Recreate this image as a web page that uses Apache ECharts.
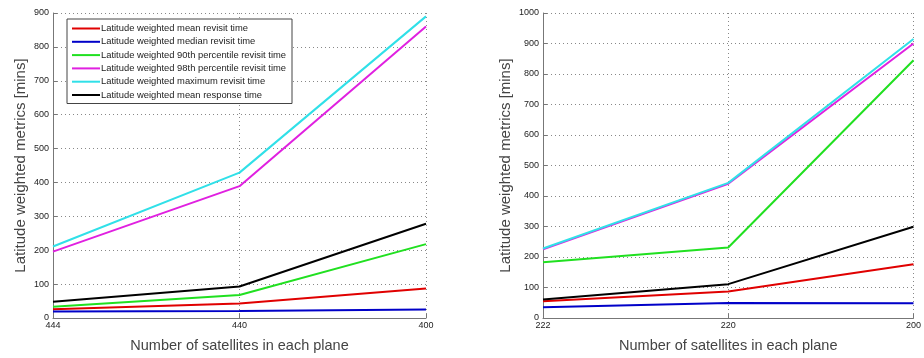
<!DOCTYPE html>
<html><head><meta charset="utf-8">
<script src="https://cdn.jsdelivr.net/npm/echarts@6/dist/echarts.min.js"></script>
<style>html,body{margin:0;padding:0;background:#fff}#c{width:924px;height:358px}</style>
</head><body><div id="c"></div>
<script>
const seriesNames = [
  'Latitude weighted mean revisit time',
  'Latitude weighted median revisit time',
  'Latitude weighted 90th percentile revisit time',
  'Latitude weighted 98th percentile revisit time',
  'Latitude weighted maximum revisit time',
  'Latitude weighted mean response time'
];
const colors = ['#e00000', '#0000c8', '#20e020', '#e020e0', '#30e0e8', '#000000'];

const leftCategories = ['444', '440', '400'];
const leftMean   = [26, 43, 87];
const leftMedian = [19, 21, 25];
const left90     = [33, 68, 218];
const left98     = [196, 389, 860];
const leftMax    = [211, 429, 890];
const leftResp   = [48, 93, 278];

const rightCategories = ['222', '220', '200'];
const rightMean   = [55, 87, 176];
const rightMedian = [35, 49, 48];
const right90     = [183, 231, 845];
const right98     = [225, 440, 900];
const rightMax    = [228, 443, 915];
const rightResp   = [61, 111, 299];

const leftData = [leftMean, leftMedian, left90, left98, leftMax, leftResp];
const rightData = [rightMean, rightMedian, right90, right98, rightMax, rightResp];

const font = 'Liberation Sans, Arial, sans-serif';
function xAxis(cats, gi) {
  return {
    type: 'category', data: cats, boundaryGap: false, gridIndex: gi,
    name: 'Number of satellites in each plane', nameLocation: 'middle', nameGap: 20,
    nameTextStyle: { fontFamily: font, fontSize: 14.5, color: '#444' },
    axisLine: { lineStyle: { color: '#777', width: 1 } },
    axisTick: { show: true, inside: true, length: 4, lineStyle: { color: '#777' } },
    axisLabel: { fontFamily: font, fontSize: 9, color: '#222', margin: 3 },
    splitLine: { show: true, lineStyle: { color: '#888', type: [1, 3], width: 1 } }
  };
}
function yAxis(max, gi, gap) {
  return {
    type: 'value', min: 0, max: max, interval: 100, gridIndex: gi,
    name: 'Latitude weighted metrics [mins]', nameLocation: 'middle', nameGap: gap,
    nameTextStyle: { fontFamily: font, fontSize: 15, color: '#444' },
    axisLine: { show: true, lineStyle: { color: '#777', width: 1 } },
    axisTick: { show: true, inside: true, length: 4, lineStyle: { color: '#777' } },
    axisLabel: { fontFamily: font, fontSize: 9, color: '#222', margin: 4, formatter: v => String(v) },
    splitLine: { show: true, lineStyle: { color: '#888', type: [1, 3], width: 1 } }
  };
}
const series = [];
seriesNames.forEach((n, i) => {
  series.push({ name: n, type: 'line', xAxisIndex: 0, yAxisIndex: 0, data: leftData[i],
    symbol: 'none', lineStyle: { color: colors[i], width: 2 }, itemStyle: { color: colors[i] }, animation: false });
  series.push({ name: n, type: 'line', xAxisIndex: 1, yAxisIndex: 1, data: rightData[i],
    symbol: 'none', lineStyle: { color: colors[i], width: 2 }, itemStyle: { color: colors[i] }, animation: false });
});

const chart = echarts.init(document.getElementById('c'), null, { renderer: 'canvas' });
chart.setOption({
  backgroundColor: '#fff',
  animation: false,
  grid: [
    { left: 53, top: 13, width: 373, height: 306 },
    { left: 543, top: 13, width: 373, height: 306 }
  ],
  xAxis: [xAxis(leftCategories, 0), xAxis(rightCategories, 1)],
  yAxis: [yAxis(900, 0, 25), yAxis(1000, 1, 30)],
  legend: {
    orient: 'vertical', left: 67, top: 19, data: seriesNames,
    icon: 'rect', itemWidth: 28, itemHeight: 2, itemGap: 2.3,
    backgroundColor: '#fff', borderColor: '#444', borderWidth: 1,
    padding: [4, 6, 3, 5],
    textStyle: { fontFamily: font, fontSize: 9.4, color: '#222', lineHeight: 11, padding: [0,0,0,-4] }
  },
  series: series
});
</script></body></html>
